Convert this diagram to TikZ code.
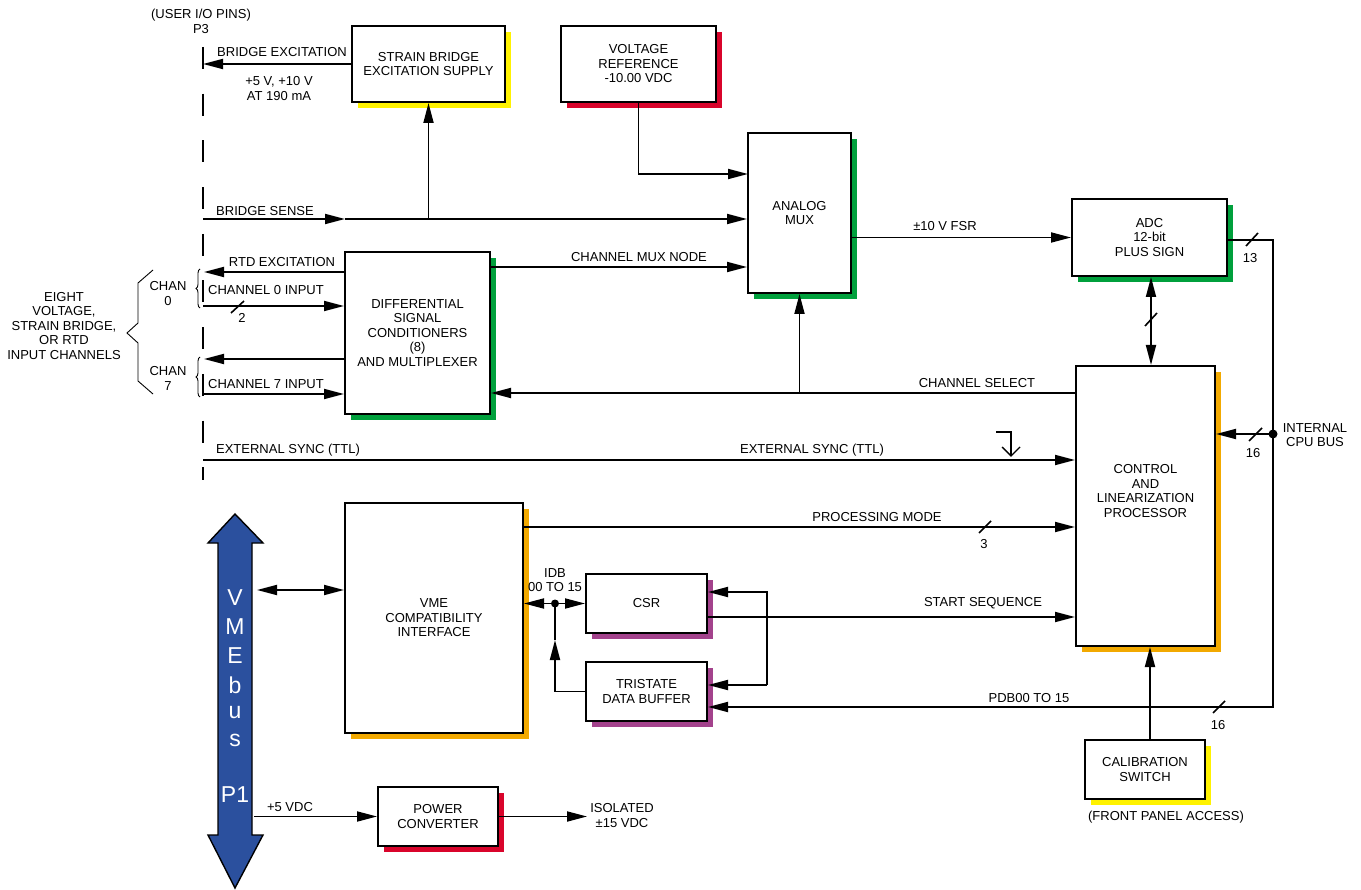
\documentclass[tikz,border=0pt]{standalone}
\usepackage{fontspec}
\setmainfont{Liberation Sans}
\usetikzlibrary{arrows.meta,shadows,decorations.pathreplacing}
\definecolor{yS}{HTML}{FFF200}
\definecolor{rS}{HTML}{D9042B}
\definecolor{gS}{HTML}{00A03C}
\definecolor{oS}{HTML}{F2A900}
\definecolor{mS}{HTML}{A3428C}
\definecolor{vmeblue}{HTML}{2B509E}
\begin{document}
\begin{tikzpicture}[x=1pt,y=-1pt,
  every node/.style={font=\fontsize{13}{14.5}\selectfont, inner sep=0pt},
  txt/.style={align=center},
  box/.style={draw, fill=white, line width=2pt, align=center},
  shad/.style={drop shadow={shadow xshift=6pt, shadow yshift=-6pt, fill=#1, opacity=1}},
  ln/.style={line width=1.8pt},
  arr/.style={line width=1.8pt, -{Triangle[length=20pt,width=10pt]}},
  darr/.style={line width=1.8pt, {Triangle[length=20pt,width=10pt]}-{Triangle[length=20pt,width=10pt]}},
  slash/.style={line width=1.6pt},
  busl/.style={text=white, font=\fontsize{23}{25}\selectfont}
]
\useasboundingbox (0,0) rectangle (1361,890);

% ---------- boxes ----------
\node[box, shad=yS, minimum width=153pt, minimum height=76pt] (sb) at (428.5,64) {STRAIN BRIDGE\\EXCITATION SUPPLY};
\node[box, shad=rS, minimum width=155pt, minimum height=76pt] (vr) at (638.5,64) {VOLTAGE\\REFERENCE\\-10.00 VDC};
\node[box, shad=gS, minimum width=103pt, minimum height=160pt] (mux) at (799.5,213) {ANALOG\\MUX};
\node[box, shad=gS, minimum width=155pt, minimum height=77pt] (adc) at (1149.5,237.5) {ADC\\12-bit\\PLUS SIGN};
\node[box, shad=gS, minimum width=145pt, minimum height=162pt] (diff) at (417.5,333) {DIFFERENTIAL\\SIGNAL\\CONDITIONERS\\(8)\\AND MULTIPLEXER};
\node[box, shad=oS, minimum width=139pt, minimum height=280pt] (ctrl) at (1145.5,506) {};
\node[txt] (ctrlt) at (1145.5,491) {CONTROL\\AND\\LINEARIZATION\\PROCESSOR};
\node[box, shad=oS, minimum width=178pt, minimum height=230pt] (vme) at (434,618) {VME\\COMPATIBILITY\\INTERFACE};
\node[box, shad=mS, minimum width=121pt, minimum height=59pt] (csr) at (646.5,603.5) {CSR};
\node[box, shad=mS, minimum width=121pt, minimum height=59pt] (tri) at (646.5,691.5) {TRISTATE\\DATA BUFFER};
\node[box, shad=yS, minimum width=120pt, minimum height=59pt] (cal) at (1145,769.5) {CALIBRATION\\SWITCH};
\node[box, shad=rS, minimum width=120pt, minimum height=59pt] (pc) at (438,816.5) {POWER\\CONVERTER};

% ---------- P3 connector line ----------
\coordinate (p3top) at (203,47);
\coordinate (p3bot) at (203,480);
\draw[line width=1.8pt, dash pattern=on 22pt off 24.7pt] (p3top) -- (p3bot);
\node[txt] (userio) at (201,15) {(USER I/O PINS)};
\node[txt] (p3lab) at (201,29) {P3};

% ---------- bridge excitation ----------
\coordinate (be) at (203,64);
\draw[arr] (sb.west) -- (be);
\node[txt] (belab) at (282,52) {BRIDGE EXCITATION};
\node[txt] (bev) at (279,88.5) {+5 V, +10 V\\AT 190 mA};

% ---------- bridge sense ----------
\coordinate (bs) at (203,219);
\coordinate (bsmid) at (345,219);
\draw[arr] (bs) -- (bsmid);
\draw[arr] (bsmid) -- (mux.west |- bs);
\draw[arr] (sb.south |- bs) -- (sb.south);
\node[txt] (bslab) at (265,211) {BRIDGE SENSE};

% ---------- voltage reference to mux ----------
\coordinate (muxin1) at (748,174);
\draw[arr] (vr.south) |- (muxin1);

% ---------- differential conditioners I/O ----------
\coordinate (rtd) at (204,272);
\draw[arr] (diff.west |- rtd) -- (rtd);
\node[txt] (rtdlab) at (282,262) {RTD EXCITATION};

\coordinate (c0) at (203,306);
\draw[arr] (c0) -- (diff.west |- c0);
\node[txt] (c0lab) at (266,290) {CHANNEL 0 INPUT};
\draw[slash] (231,313) -- (244,301);
\node[txt] (c0n) at (242,318) {2};

\coordinate (c7x) at (204,359);
\draw[arr] (diff.west |- c7x) -- (c7x);

\coordinate (c7) at (203,394);
\draw[arr] (c7) -- (diff.west |- c7);
\node[txt] (c7lab) at (266,384) {CHANNEL 7 INPUT};

% braces and channel labels
\draw[line width=0.9pt, decorate, decoration={brace, amplitude=4pt}] (200,308) -- (200,269);
\draw[line width=0.9pt, decorate, decoration={brace, amplitude=4pt}] (200,397) -- (200,357);
\node[txt] (ch0) at (168,293.5) {CHAN\\0};
\node[txt] (ch7) at (168,378.5) {CHAN\\7};
\draw[line width=0.9pt] (153,270) -- (138,283) -- (138,323) -- (127,333) -- (138,343) -- (138,381) -- (153,394);
\node[txt] (eight) at (64,326) {EIGHT\\VOLTAGE,\\STRAIN BRIDGE,\\OR RTD\\INPUT CHANNELS};

% ---------- channel mux node ----------
\coordinate (cmn) at (490,267);
\draw[arr] (diff.east |- cmn) -- (mux.west |- cmn);
\node[txt] (cmnlab) at (639,257) {CHANNEL MUX NODE};

% ---------- mux to adc ----------
\draw[arr] (mux.east |- adc.west) -- (adc.west);
\node[txt] (fsr) at (945,226) {±10 V FSR};

% ---------- ADC output / internal bus ----------
\coordinate (busTop) at (1273,240);
\coordinate (busBot) at (1273,707);
\coordinate (dotC) at (1273,434);
\draw[arr] (adc.east |- busTop) -- (busTop) -- (busBot) -- (tri.east |- busBot);
\draw[slash] (1246,246) -- (1258,233);
\node[txt] (n13) at (1250,258) {13};
\fill (dotC) circle (4.5);
\draw[arr] (dotC) -- (ctrl.east |- dotC);
\draw[slash] (1249,441) -- (1262,428);
\node[txt] (n16a) at (1253,453) {16};
\node[txt] (icb) at (1315,435) {INTERNAL\\CPU BUS};
\node[txt] (pdblab) at (1029,698) {PDB00 TO 15};
\draw[slash] (1213,713) -- (1225,701);
\node[txt] (n16b) at (1218,725) {16};

% ---------- ADC <-> control ----------
\coordinate (ac) at (1151,0);
\draw[darr] (adc.south -| ac) -- (ctrl.north -| ac);
\draw[slash] (1145,326) -- (1157,313);

% ---------- channel select ----------
\coordinate (cs) at (0,393);
\draw[arr] (ctrl.west |- cs) -- (diff.east |- cs);
\draw[arr] (mux.south |- cs) -- (mux.south);
\node[txt] (cslab) at (977,383) {CHANNEL SELECT};

% ---------- external sync ----------
\coordinate (es) at (203,460);
\draw[arr] (es) -- (ctrl.west |- es);
\node[txt] (es1) at (288,450) {EXTERNAL SYNC (TTL)};
\node[txt] (es2) at (812,450) {EXTERNAL SYNC (TTL)};
\draw[line width=1.4pt] (996,432) -- (1011,432) -- (1011,456);
\draw[line width=1.4pt] (1002,447) -- (1011,456) -- (1020,447);

% ---------- processing mode ----------
\coordinate (pm) at (0,527);
\draw[arr] (vme.east |- pm) -- (ctrl.west |- pm);
\node[txt] (pmlab) at (877,517) {PROCESSING MODE};
\draw[slash] (979,533) -- (991,521);
\node[txt] (n3) at (984,544) {3};

% ---------- IDB ----------
\coordinate (idb) at (555,603.5);
\draw[darr] (vme.east |- idb) -- (csr.west);
\fill (idb) circle (4);
\node[txt] (idblab) at (555,580) {IDB\\00 TO 15};
\coordinate (idbUp) at (555,640);
\draw[arr] (tri.west) -| (idbUp);
\draw[ln] (idbUp) -- (idb);

% ---------- start sequence & loop ----------
\coordinate (ss) at (0,617);
\draw[arr] (csr.east |- ss) -- (ctrl.west |- ss);
\node[txt] (sslab) at (983,603) {START SEQUENCE};
\coordinate (lpT) at (767,592);
\coordinate (lpB) at (767,685);
\draw[arr] (lpB) -- (lpT) -- (csr.east |- lpT);
\draw[arr] (lpB) -- (tri.east |- lpB);

% ---------- calibration ----------
\coordinate (cc) at (1150,0);
\draw[arr] (cal.north -| cc) -- (ctrl.south -| cc);
\node[txt] (fpa) at (1166,817) {(FRONT PANEL ACCESS)};

% ---------- VMEbus ----------
\draw[fill=vmeblue, line width=1.4pt] (235,514) -- (263,543) -- (252,543) -- (252,835) -- (263,835) -- (235,888) -- (208,835) -- (218,835) -- (218,543) -- (208,543) -- cycle;
\node[busl] (bV) at (235,598) {V};
\node[busl] (bM) at (235,627) {M};
\node[busl] (bE) at (235,656) {E};
\node[busl] (bb) at (235,685) {b};
\node[busl] (bu) at (235,713) {u};
\node[busl] (bs2) at (235,740) {s};
\node[busl] (bP) at (235,795) {P1};
\coordinate (vb) at (257,590);
\draw[darr] (vb) -- (vme.west |- vb);

% ---------- power converter ----------
\coordinate (p5) at (254,816.5);
\draw[arr] (p5) -- (pc.west);
\node[txt] (p5lab) at (290,807) {+5 VDC};
\coordinate (iso) at (587,816.5);
\draw[arr] (pc.east) -- (iso);
\node[txt] (isolab) at (622,815.5) {ISOLATED\\±15 VDC};
\end{tikzpicture}
\end{document}
